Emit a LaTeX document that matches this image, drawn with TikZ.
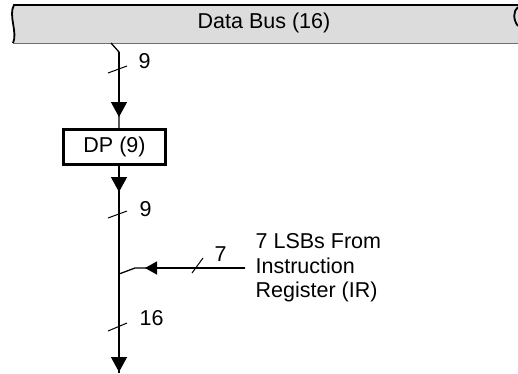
\documentclass[tikz,border=0pt]{standalone}
\usepackage{fontspec}
\setmainfont{Liberation Sans}
\usetikzlibrary{arrows.meta}
\definecolor{busfill}{HTML}{DCDCDC}
\definecolor{busedge}{HTML}{707070}
\begin{document}
\begin{tikzpicture}[x=1pt,y=-1pt,line width=1.3pt,
  lbl/.style={font=\fontsize{21.5}{24.5}\selectfont,inner sep=0pt},
  tipv/.style={-{Triangle[length=15pt,width=16pt]}},
  tiph/.style={-{Triangle[length=12pt,width=13pt]}},
  regbox/.style={draw,line width=3pt,minimum width=102pt,minimum height=35pt,inner sep=0pt,font=\fontsize{21.5}{24.5}\selectfont},
  slash/.style={line width=1pt}]
\useasboundingbox (0,0) rectangle (518,373);
% data bus
\fill[busfill] (14,5) -- (530,5) -- (530,43) -- (13,43) .. controls (18,33) and (8,15) .. (14,5) -- cycle;
\draw[busedge,line width=1pt] (13,43) -- (518,43);
\draw[line width=1.8pt] (530,5) -- (14,5) .. controls (8,15) and (18,33) .. (13,43);
\draw[line width=1.8pt] (518,26) .. controls (513,20) and (513,11) .. (518,7);
\node[lbl] (bus) at (264,23) {Data Bus (16)};
% spine
\coordinate (tap) at (111,43);
\coordinate (k1) at (119,52);
\node[regbox] (dp) at (114.5,147) {DP (9)};
\coordinate (a1) at (119,117);
\coordinate (a2) at (119,192);
\coordinate (j) at (119,274);
\coordinate (j2) at (135,268);
\coordinate (a3) at (145,268);
\coordinate (ir) at (245,268);
\coordinate (out) at (119,373);
\coordinate (a4) at (119,372);
\draw (tap) -- (k1) -- (k1 |- dp.north);
\draw[tipv] (k1) -- (a1);
\draw (k1 |- dp.south) -- (j) -- (out);
\draw[tipv] (k1 |- dp.south) -- (a2);
\draw[tipv] (j) -- (a4);
\draw (ir) -- (j2) -- (j);
\draw[tiph] (ir) -- (a3);
% width marks
\draw[slash] (108,73) -- (127,66);
\node[lbl,anchor=west] (w1) at (138,61) {9};
\draw[slash] (108,218) -- (127,211);
\node[lbl,anchor=west] (w2) at (139,209) {9};
\draw[slash] (108,331) -- (127,323);
\node[lbl,anchor=west] (w3) at (139,318) {16};
\draw[slash] (192,273) -- (203,258);
\node[lbl,anchor=west] (w4) at (214,254) {7};
\node[lbl,anchor=west,align=left] (src) at (255,268) {7 LSBs From\\Instruction\\Register (IR)};
\end{tikzpicture}
\end{document}
